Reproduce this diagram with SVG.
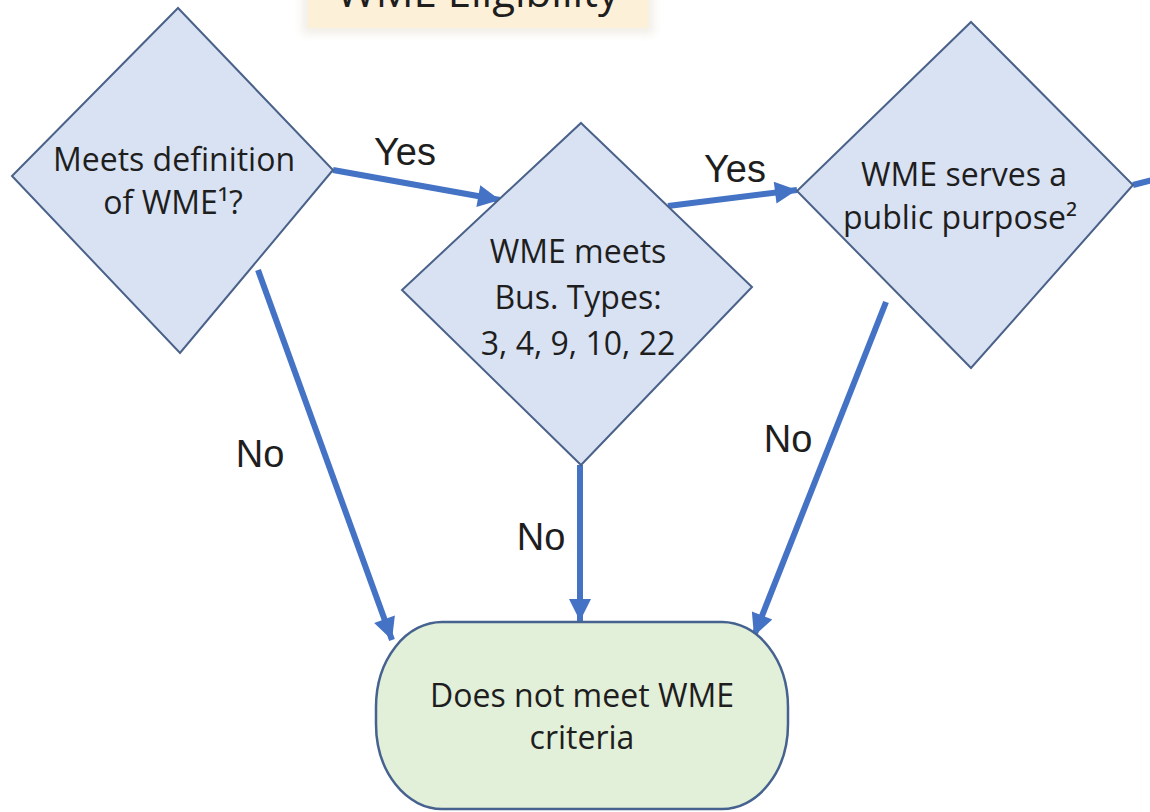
<svg xmlns="http://www.w3.org/2000/svg" width="1150" height="812" viewBox="0 0 1150 812">
  <style>
    .dia { fill: #d9e2f3; stroke: #4a6189; stroke-width: 2; }
    .term { fill: #e2efd9; stroke: #46628f; stroke-width: 2.5; }
    .ntext { font-family: "Open Sans", "Noto Sans", sans-serif; font-size: 32px; fill: #1e1e1e; text-anchor: middle; }
    .lbl { font-family: "Liberation Sans", Arial, sans-serif; font-size: 38px; fill: #1e1e1e; text-anchor: middle; }
    .conn { stroke: #4472c4; stroke-width: 6; fill: none; }
  </style>
  <defs>
    <marker id="arrow" viewBox="0 0 10 10" refX="10" refY="5" markerWidth="25" markerHeight="22" markerUnits="userSpaceOnUse" orient="auto">
      <path d="M0,0 L10,5 L0,10 z" fill="#4472c4"/>
    </marker>
    <filter id="soft" x="-10%" y="-50%" width="120%" height="200%">
      <feGaussianBlur stdDeviation="4"/>
    </filter>
  </defs>
  <rect width="1150" height="812" fill="#ffffff"/>

  <g id="title">
    <rect x="302" y="-10" width="352" height="44" fill="#f3efe8" filter="url(#soft)"/>
    <rect x="308" y="-10" width="340" height="38" fill="#fdf0d8"/>
    <text x="478" y="7" font-family="Open Sans, Noto Sans, sans-serif" font-size="42" fill="#1e1e1e" text-anchor="middle">WME Eligibility</text>
  </g>

  <g id="connectors">
    <line class="conn" x1="333" y1="170" x2="500" y2="200" marker-end="url(#arrow)"/>
    <line class="conn" x1="668" y1="206" x2="797" y2="190" marker-end="url(#arrow)"/>
    <line class="conn" x1="258" y1="270" x2="392" y2="640" marker-end="url(#arrow)"/>
    <line class="conn" x1="580" y1="465" x2="580" y2="621" marker-end="url(#arrow)"/>
    <line class="conn" x1="886" y1="302" x2="754" y2="636" marker-end="url(#arrow)"/>
    <line class="conn" x1="1133" y1="185" x2="1152" y2="180"/>
    <text class="lbl" x="405" y="165">Yes</text>
    <text class="lbl" x="735" y="182">Yes</text>
    <text class="lbl" x="260" y="467">No</text>
    <text class="lbl" x="541" y="550">No</text>
    <text class="lbl" x="788" y="452">No</text>
  </g>

  <g id="node-definition">
    <polygon class="dia" points="178,8 333,170 180,353 12,176"/>
    <text class="ntext" x="174" y="171">Meets definition</text>
    <text class="ntext" x="173" y="214">of WME¹?</text>
  </g>

  <g id="node-bustypes">
    <polygon class="dia" points="581,123 752,287 581,465 402,290"/>
    <text class="ntext" x="578" y="263">WME meets</text>
    <text class="ntext" x="578" y="309">Bus. Types:</text>
    <text class="ntext" x="578" y="355">3, 4, 9, 10, 22</text>
  </g>

  <g id="node-public">
    <polygon class="dia" points="971,22 1133,185 971,368 797,191"/>
    <text class="ntext" x="964" y="186">WME serves a</text>
    <text class="ntext" x="960" y="229">public purpose²</text>
  </g>

  <g id="node-notmeet">
    <rect class="term" x="376" y="622" width="412" height="187" rx="66" ry="85"/>
    <text class="ntext" x="582" y="707">Does not meet WME</text>
    <text class="ntext" x="582" y="749">criteria</text>
  </g>
</svg>
